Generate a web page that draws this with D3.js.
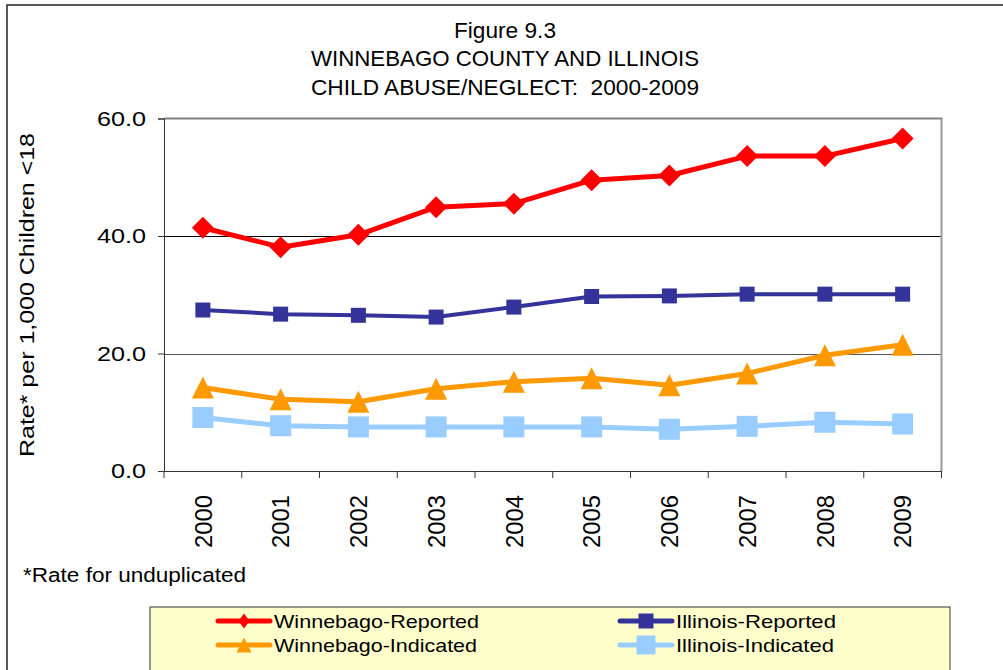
<!DOCTYPE html>
<html>
<head>
<meta charset="utf-8">
<script src="https://cdn.jsdelivr.net/npm/d3@7"></script>
<style>
  html, body { margin: 0; padding: 0; background: #fff; }
  svg { display: block; font-family: "Liberation Sans", Arial, sans-serif; }
</style>
</head>
<body>
<svg id="chart" width="1003" height="670"></svg>
<script>
// Data
const years = ["2000","2001","2002","2003","2004","2005","2006","2007","2008","2009"];
const winnebagoReported  = [41.4, 38.1, 40.2, 44.9, 45.5, 49.5, 50.3, 53.6, 53.6, 56.6];
const illinoisReported   = [27.4, 26.7, 26.5, 26.2, 27.9, 29.7, 29.8, 30.1, 30.1, 30.1];
const winnebagoIndicated = [14.2, 12.2, 11.8, 14.0, 15.2, 15.8, 14.6, 16.6, 19.7, 21.5];
const illinoisIndicated  = [9.1, 7.7, 7.5, 7.5, 7.5, 7.5, 7.1, 7.6, 8.3, 8.0];
const yTicks = [0, 20, 40, 60];
const titleLines = ["Figure 9.3", "WINNEBAGO COUNTY AND ILLINOIS", "CHILD ABUSE/NEGLECT:  2000-2009"];
const yLabel = "Rate* per 1,000 Children <18";
const footnote = "*Rate for unduplicated";

const series = [
  { name: "Winnebago-Reported",  values: winnebagoReported,  color: "#FF0000", marker: "diamond",  size: 22, lw: 5 },
  { name: "Illinois-Reported",   values: illinoisReported,   color: "#333399", marker: "square",   size: 15, lw: 4 },
  { name: "Winnebago-Indicated", values: winnebagoIndicated, color: "#FF9900", marker: "triangle", size: 22, lw: 5 },
  { name: "Illinois-Indicated",  values: illinoisIndicated,  color: "#99CCFF", marker: "square",   size: 21, lw: 5 }
];

const svg = d3.select("#chart");
const W = 1003, H = 670;

// Outer frame
svg.append("rect").attr("x", 7).attr("y", 5).attr("width", W + 10).attr("height", H + 10)
  .attr("fill", "#fff").attr("stroke", "#222").attr("stroke-width", 1.5);

// Plot area
const plot = { left: 164, right: 941.5, top: 118.5, bottom: 471 };

const x = d3.scaleBand().domain(years).range([plot.left, plot.right]).padding(0);
const y = d3.scaleLinear().domain([0, 60]).range([plot.bottom, plot.top]);

// Title
const titleLengths = [102, 388, 388];
const titleBaselines = [37.5, 66, 94.5];
titleLines.forEach((t, i) => {
  svg.append("text")
    .attr("x", 505).attr("y", titleBaselines[i])
    .attr("text-anchor", "middle").attr("font-size", 22).attr("fill", "#000")
    .attr("xml:space", "preserve").style("white-space", "pre")
    .attr("textLength", titleLengths[i]).attr("lengthAdjust", "spacingAndGlyphs")
    .text(t);
});

// Gridlines
svg.append("g").selectAll("line").data(yTicks.filter(d => d > 0 && d < 60)).join("line")
  .attr("x1", plot.left).attr("x2", plot.right)
  .attr("y1", d => Math.round(y(d)) + 0.5).attr("y2", d => Math.round(y(d)) + 0.5)
  .attr("stroke", d => d === 40 ? "#000" : "#555").attr("stroke-width", 1);

// Top and right plot borders
svg.append("line").attr("x1", plot.left).attr("x2", plot.right + 1)
  .attr("y1", plot.top).attr("y2", plot.top).attr("stroke", "#808080").attr("stroke-width", 2);
svg.append("line").attr("x1", plot.right).attr("x2", plot.right)
  .attr("y1", plot.top).attr("y2", plot.bottom).attr("stroke", "#999").attr("stroke-width", 2);

// Y axis
const yAxis = d3.axisLeft(y).tickValues(yTicks).tickFormat(d3.format(".1f")).tickSize(6).tickPadding(12);
const gy = svg.append("g").attr("transform", `translate(${plot.left},0)`).call(yAxis);
gy.select(".domain").attr("stroke", "#333");
gy.selectAll(".tick line").attr("stroke", "#333");
gy.selectAll(".tick text").attr("font-size", 21).attr("fill", "#000")
  .attr("font-family", "'Liberation Sans', Arial, sans-serif")
  .each(function () {
    const len = this.getComputedTextLength();
    d3.select(this).attr("textLength", len * 1.2).attr("lengthAdjust", "spacingAndGlyphs");
  });

// X axis with ticks at category boundaries
const xAxis = d3.axisBottom(x).tickSize(0).tickFormat(d => d);
const gx = svg.append("g").attr("transform", `translate(0,${plot.bottom})`).call(xAxis);
gx.select(".domain").attr("stroke", "#333");
gx.selectAll(".tick text")
  .attr("font-size", 24).attr("fill", "#000")
  .attr("font-family", "'Liberation Sans', Arial, sans-serif")
  .attr("transform", "rotate(-90)")
  .attr("text-anchor", "end")
  .attr("dy", "0.36em")
  .attr("x", -24).attr("y", 0)
  .attr("textLength", 53).attr("lengthAdjust", "spacingAndGlyphs");
const boundaries = years.map(d => x(d)).concat([plot.right]);
svg.append("g").selectAll("line").data(boundaries).join("line")
  .attr("x1", d => d).attr("x2", d => d)
  .attr("y1", plot.bottom).attr("y2", plot.bottom + 7)
  .attr("stroke", "#333").attr("stroke-width", 1);

// Y axis label
svg.append("text")
  .attr("transform", `translate(34,295) rotate(-90)`)
  .attr("text-anchor", "middle").attr("font-size", 21).attr("fill", "#000")
  .attr("textLength", 324).attr("lengthAdjust", "spacingAndGlyphs")
  .text(yLabel);

// Marker path generator
function markerPath(type, w, h) {
  h = h || w;
  const a = w / 2, b = h / 2;
  if (type === "diamond") return `M0,${-b}L${a},0L0,${b}L${-a},0Z`;
  if (type === "square") return `M${-a},${-b}H${a}V${b}H${-a}Z`;
  if (type === "triangle") return `M0,${-b}L${a},${b}L${-a},${b}Z`;
}

const cx = d => x(d) + x.bandwidth() / 2;
const line = d3.line().x((d, i) => cx(years[i])).y(d => y(d));

// Draw series (last series underneath)
const gSeries = svg.append("g");
series.slice().reverse().forEach(s => {
  const g = gSeries.append("g");
  g.append("path").attr("d", line(s.values)).attr("fill", "none")
    .attr("stroke", s.color).attr("stroke-width", s.lw).attr("stroke-linejoin", "round");
  g.selectAll("path.m").data(s.values).join("path").attr("class", "m")
    .attr("transform", (d, i) => `translate(${cx(years[i])},${y(d)})`)
    .attr("d", markerPath(s.marker, s.size)).attr("fill", s.color);
});

// Footnote
svg.append("text").attr("x", 23).attr("y", 582).attr("font-size", 20).attr("fill", "#000")
  .attr("textLength", 223).attr("lengthAdjust", "spacingAndGlyphs")
  .text(footnote);

// Legend
const legend = svg.append("g");
legend.append("rect").attr("x", 150).attr("y", 607).attr("width", 800).attr("height", 80)
  .attr("fill", "#FFFFCC").attr("stroke", "#333").attr("stroke-width", 1);
const legendPos = [
  { x: 218, y: 621 }, { x: 620, y: 621 }, { x: 218, y: 645 }, { x: 620, y: 645 }
];
const legendMarkers = [[11, 15], [15, 15], [15, 15], [19, 19]];
const legendLengths = [205, 160, 203, 158];
series.forEach((s, i) => {
  const p = legendPos[i];
  const g = legend.append("g").attr("transform", `translate(${p.x},${p.y})`);
  g.append("line").attr("x1", 0).attr("x2", 52).attr("y1", 0).attr("y2", 0)
    .attr("stroke", s.color).attr("stroke-width", 5).attr("stroke-linecap", "round");
  g.append("path").attr("transform", "translate(26,0)")
    .attr("d", markerPath(s.marker, legendMarkers[i][0], legendMarkers[i][1])).attr("fill", s.color);
  g.append("text").attr("x", 56).attr("y", 6.5)
    .attr("font-size", 19).attr("fill", "#000")
    .attr("textLength", legendLengths[i])
    .attr("lengthAdjust", "spacingAndGlyphs")
    .text(s.name);
});
</script>
</body>
</html>
